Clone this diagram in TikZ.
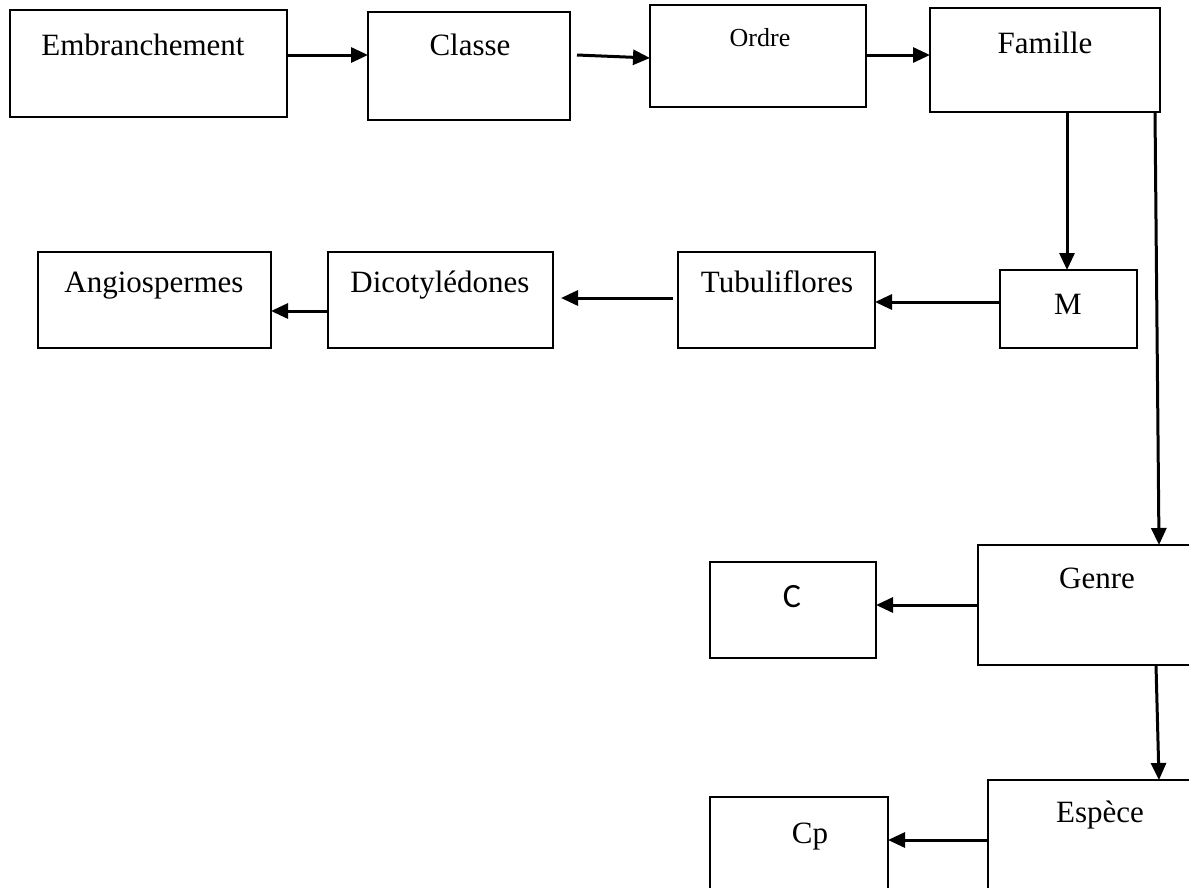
\documentclass[tikz,border=0pt]{standalone}
\usepackage{fontspec}
\setmainfont{Liberation Serif}
\newfontfamily\calib{Carlito}
\usetikzlibrary{arrows.meta,calc}
\begin{document}
\begin{tikzpicture}[x=1pt,y=-1pt,
  box/.style={draw=black,line width=1.8pt,inner sep=0pt,outer sep=0pt,anchor=north west},
  lbl/.style={anchor=base,inner sep=0pt,font=\fontsize{31}{37}\selectfont},
  conn/.style={line width=3pt,-{Triangle[length=17pt,width=15pt]}},
  plain/.style={line width=3pt}]
\clip (0,0) rectangle (1189,887);
\fill[white] (0,0) rectangle (1189,887);
% boxes
\node[box,minimum width=277pt,minimum height=107pt] (emb) at (10,10) {};
\node[box,minimum width=202pt,minimum height=108pt] (cla) at (368,12) {};
\node[box,minimum width=216pt,minimum height=102pt] (ord) at (650,5) {};
\node[box,minimum width=230pt,minimum height=104pt] (fam) at (930,8) {};
\node[box,minimum width=233pt,minimum height=96pt] (ang) at (38,252) {};
\node[box,minimum width=225pt,minimum height=96pt] (dic) at (328,252) {};
\node[box,minimum width=197pt,minimum height=96pt] (tub) at (678,252) {};
\node[box,minimum width=137pt,minimum height=78pt] (m) at (1000,270) {};
\node[box,minimum width=166pt,minimum height=96pt] (c) at (710,562) {};
\node[box,minimum width=220pt,minimum height=120pt] (gen) at (978,545) {};
\node[box,minimum width=178pt,minimum height=100pt] (cp) at (710,797) {};
\node[box,minimum width=210pt,minimum height=120pt] (esp) at (988,780) {};
% labels
\node[lbl] (embt) at (143,55) {Embranchement};
\node[lbl] (clat) at (470,55) {Classe};
\node[lbl,font=\fontsize{26}{31}\selectfont] (ordt) at (760,46) {Ordre};
\node[lbl] (famt) at (1045,53) {Famille};
\node[lbl] (angt) at (154,292) {Angiospermes};
\node[lbl] (dict) at (440,292) {Dicotylédones};
\node[lbl] (tubt) at (777,292) {Tubuliflores};
\node[lbl] (mt) at (1068,314) {M};
\node[lbl] (gent) at (1097,588) {Genre};
\node[lbl,font=\fontsize{34}{40}\selectfont\calib] (ct) at (792,607) {C};
\node[lbl] (espt) at (1100,822) {Espèce};
\node[lbl] (cpt) at (810,843) {Cp};
% connectors
\draw[conn] ([yshift=-45pt]emb.north east) -- ([yshift=-43pt]cla.north west);
\draw[conn] ([xshift=7pt,yshift=-43pt]cla.north east) -- ([yshift=-53pt]ord.north west);
\draw[conn] ([yshift=-50pt]ord.north east) -- ([yshift=-47pt]fam.north west);
\draw[conn] ([xshift=137pt]fam.south west) -- ([xshift=67pt]m.north west);
\draw[conn] ([xshift=-5pt]fam.south east) -- ([xshift=181pt]gen.north west);
\draw[conn] ([yshift=-32pt]m.north west) -- ([yshift=-50pt]tub.north east);
\coordinate (stub) at ([xshift=-5pt,yshift=-46pt]tub.north west);
\draw[conn] (stub) -- ([xshift=8pt,yshift=-46pt]dic.north east);
\draw[conn] ([yshift=-59pt]dic.north west) -- ([yshift=-59pt]ang.north east);
\draw[conn] ([yshift=-60pt]gen.north west) -- ([yshift=-43pt]c.north east);
\draw[conn] ([xshift=178pt]gen.south west) -- ([xshift=171pt]esp.north west);
\draw[conn] ([yshift=-60pt]esp.north west) -- ([yshift=-43pt]cp.north east);
\end{tikzpicture}
\end{document}
